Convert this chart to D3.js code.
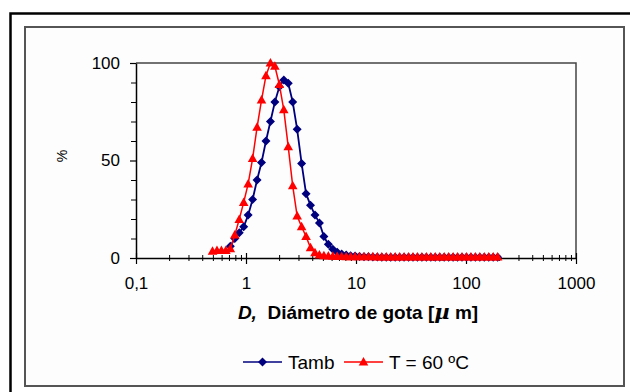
<!DOCTYPE html>
<html>
<head>
<meta charset="utf-8">
<script src="https://cdn.jsdelivr.net/npm/d3@7"></script>
<style>
  body { margin: 0; background: #fff; }
  svg { display: block; font-family: "Liberation Sans", Arial, sans-serif; }
</style>
</head>
<body>
<svg id="chart" width="630" height="392"></svg>
<script>
// Droplet diameter classes (µm), log-spaced channels
const diameters = [
  0.496, 0.5445, 0.5977, 0.6561, 0.7203, 0.7907, 0.8680, 0.9528, 1.0460, 1.1482,
  1.2605, 1.3837, 1.5190, 1.6675, 1.8305, 2.0094, 2.2058, 2.4214, 2.6581, 2.9179,
  3.2031, 3.5162, 3.8599, 4.2372, 4.6514, 5.1061, 5.6052, 6.1531, 6.7546, 7.4149,
  8.1397, 8.9354, 9.8088, 10.768, 11.820, 12.975, 14.244, 15.636, 17.164, 18.842,
  20.684, 22.706, 24.926, 27.362, 30.037, 32.973, 36.196, 39.734, 43.618, 47.882,
  52.562, 57.700, 63.340, 69.532, 76.329, 83.790, 91.980, 100.97, 110.84, 121.68,
  133.57, 146.63, 160.96, 176.70, 193.97
];

// Distribution (%) at ambient temperature
const tamb = [
  null, null, null, null, 6, 10, 13, 16, 22, 30,
  40, 49, 60, 70, 80, 87.8, 91.3, 89.6, 80, 66,
  48.5, 33, 27, 22, 18, 11, 7, 4.5, 3, 2,
  1.5, 1.2, 1.0, 0.8, 0.7, 0.6, 0.5, 0.5, 0.4, 0.4,
  0.4, 0.4, 0.4, 0.4, 0.4, 0.4, 0.4, 0.4, 0.4, 0.4,
  0.4, 0.4, 0.4, 0.4, 0.4, 0.4, 0.4, 0.4, 0.4, 0.4,
  0.4, 0.4, 0.4, 0.4, 0.4
];

// Distribution (%) at 60 ºC
const t60 = [
  3.5, 3.8, 3.8, 3.9, 4.8, 11.8, 19.8, 28.5, 38, 51,
  67, 81, 93.5, 100, 98.3, 89, 76, 57, 37, 21.5,
  16, 11, 5.2, 2.7, 1.6, 1.2, 1.0, 0.9, 0.8, 0.8,
  0.7, 0.7, 0.7, 0.6, 0.6, 0.6, 0.6, 0.5, 0.5, 0.5,
  0.5, 0.5, 0.5, 0.5, 0.5, 0.5, 0.5, 0.5, 0.5, 0.5,
  0.5, 0.5, 0.5, 0.5, 0.5, 0.5, 0.5, 0.5, 0.5, 0.5,
  0.5, 0.5, 0.5, 0.5, 0.5
];

const seriesNames = ["Tamb", "T = 60 ºC"];
const seriesColors = ["#00007f", "#ff0000"];

const xTickValues = [0.1, 1, 10, 100, 1000];
const xTickLabels = ["0,1", "1", "10", "100", "1000"];
const yTickValues = [0, 50, 100];
const yMinorTicks = [10, 20, 30, 40, 60, 70, 80, 90];

const svg = d3.select("#chart");

// Outer frame (top and left edges)
svg.append("path")
  .attr("d", "M10.5,392 V13.5 H630")
  .attr("fill", "none").attr("stroke", "#000").attr("stroke-width", 2.5);

// Chart area border
svg.append("rect")
  .attr("x", 25).attr("y", 27).attr("width", 599).attr("height", 359)
  .attr("fill", "#fdfdfd").attr("stroke", "#555").attr("stroke-width", 2);

const plot = { left: 136, right: 576, top: 63, bottom: 258 };

const x = d3.scaleLog().domain([0.1, 1000]).range([plot.left, plot.right]);
const y = d3.scaleLinear().domain([0, 100]).range([plot.bottom, plot.top]);

// Plot area border (top and right)
svg.append("path")
  .attr("d", `M${plot.left},${plot.top} H${plot.right} V${plot.bottom}`)
  .attr("fill", "none").attr("stroke", "#444").attr("stroke-width", 1.5);

// X axis: minor ticks
const minorX = [];
xTickValues.slice(0, -1).forEach(d => { for (let k = 2; k <= 9; k++) minorX.push(d * k); });
const gxMinor = svg.append("g")
  .attr("transform", `translate(0,${plot.bottom})`)
  .call(d3.axisBottom(x).tickValues(minorX).tickFormat("").tickSize(3).tickSizeOuter(0));
gxMinor.select(".domain").remove();
gxMinor.selectAll(".tick line").attr("y1", -3).attr("stroke", "#000").attr("stroke-width", 1);

// X axis: decade ticks and labels
const gx = svg.append("g")
  .attr("transform", `translate(0,${plot.bottom})`)
  .call(d3.axisBottom(x).tickValues(xTickValues)
    .tickFormat((d, i) => xTickLabels[i]).tickSize(6).tickSizeOuter(0).tickPadding(13));
gx.select(".domain").attr("stroke", "#000").attr("stroke-width", 1.5);
gx.selectAll(".tick line").attr("y1", -5).attr("stroke", "#000").attr("stroke-width", 1.2);
gx.selectAll(".tick text").attr("font-size", 17).attr("fill", "#000")
  .attr("font-family", "'Liberation Sans', Arial, sans-serif");

// Y axis: minor ticks
const gyMinor = svg.append("g")
  .attr("transform", `translate(${plot.left},0)`)
  .call(d3.axisLeft(y).tickValues(yMinorTicks).tickFormat("").tickSize(5).tickSizeOuter(0));
gyMinor.select(".domain").remove();
gyMinor.selectAll(".tick line").attr("stroke", "#000").attr("stroke-width", 1);

// Y axis: labelled ticks
const gy = svg.append("g")
  .attr("transform", `translate(${plot.left},0)`)
  .call(d3.axisLeft(y).tickValues(yTickValues).tickSize(6).tickSizeOuter(0).tickPadding(10));
gy.select(".domain").attr("stroke", "#000").attr("stroke-width", 1.5);
gy.selectAll(".tick line").attr("stroke", "#000").attr("stroke-width", 1.2);
gy.selectAll(".tick text").attr("font-size", 17).attr("fill", "#000")
  .attr("font-family", "'Liberation Sans', Arial, sans-serif");

// Y axis title
svg.append("text")
  .attr("transform", "translate(67,156) rotate(-90)")
  .attr("text-anchor", "middle")
  .attr("font-size", 14)
  .text("%");

// X axis title
const xt = svg.append("text")
  .attr("x", 358).attr("y", 319)
  .attr("text-anchor", "middle")
  .attr("font-size", 19).attr("font-weight", "bold");
xt.append("tspan").attr("font-style", "italic").text("D,");
xt.append("tspan").text("\u00a0 Diámetro de gota [");
xt.append("tspan").attr("font-style", "italic").attr("font-size", 21)
  .attr("font-family", "'DejaVu Serif', serif").text("µ");
xt.append("tspan").text("\u00a0m]");

// Marker shapes
const diamond = "M0,-4.5 L4.5,0 L0,4.5 L-4.5,0 Z";
const triangle = "M0,-5 L4.8,3.5 L-4.8,3.5 Z";
const markers = [diamond, triangle];

const seriesData = [tamb, t60].map(vals =>
  diameters.map((d, i) => ({ d, v: vals[i] })).filter(p => p.v != null));

const line = d3.line().x(p => x(p.d)).y(p => y(p.v));

seriesData.forEach((data, s) => {
  const g = svg.append("g");
  g.append("path")
    .datum(data)
    .attr("d", line)
    .attr("fill", "none")
    .attr("stroke", seriesColors[s])
    .attr("stroke-width", s === 0 ? 1.8 : 1.5);
  g.selectAll("path.m")
    .data(data)
    .join("path")
    .attr("class", "m")
    .attr("d", markers[s])
    .attr("transform", p => `translate(${x(p.d)},${y(p.v)})`)
    .attr("fill", seriesColors[s]);
});

// Legend
const legendItems = [
  { x0: 243, x1: 282, tx: 288 },
  { x0: 344, x1: 383, tx: 389 }
];
const legendY = 362;
legendItems.forEach((it, s) => {
  svg.append("line")
    .attr("x1", it.x0).attr("x2", it.x1)
    .attr("y1", legendY).attr("y2", legendY)
    .attr("stroke", seriesColors[s]).attr("stroke-width", 1.5);
  svg.append("path")
    .attr("d", markers[s])
    .attr("transform", `translate(${(it.x0 + it.x1) / 2},${legendY})`)
    .attr("fill", seriesColors[s]);
  svg.append("text")
    .attr("x", it.tx).attr("y", legendY + 7)
    .attr("font-size", 19)
    .text(seriesNames[s]);
});
</script>
</body>
</html>
